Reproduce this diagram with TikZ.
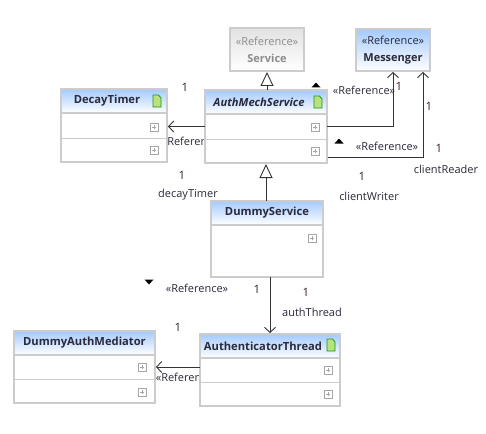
\documentclass[tikz,border=0pt]{standalone}
\usepackage{fontspec}
\setmainfont{Open Sans}
\usetikzlibrary{arrows.meta}
\definecolor{boxgray}{HTML}{CCCCCC}
\definecolor{headblue}{HTML}{A4CAFF}
\definecolor{headgray}{HTML}{E2E2E2}
\definecolor{textdark}{HTML}{2A2A3A}
\definecolor{textone}{HTML}{3A2030}
\tikzset{
  classbox/.style={draw=boxgray,line width=2pt,fill=white,outer sep=0pt,inner sep=0pt},
  headbox/.style={classbox,top color=headblue,bottom color=white,anchor=north,minimum height=24pt},
  refbox/.style={classbox,top color=headblue,bottom color=white,align=center,font=\fontsize{11}{17}\selectfont,text=textdark},
  title/.style={font=\fontsize{11.2}{13}\selectfont\bfseries,text=textdark,inner sep=0pt},
  tag/.style={font=\fontsize{11}{12}\selectfont,text=textdark,inner sep=0pt},
  one/.style={font=\fontsize{11.5}{12}\selectfont,text=textone,inner sep=0pt},
  refline/.style={-{Straight Barb[length=5pt,width=11pt]},line width=.9pt,draw=black!80,shorten >=1pt},
  genline/.style={-{Triangle[open,length=14pt,width=13pt,fill=white]},line width=.9pt,draw=black!80,shorten >=1pt},
  note/.pic={\draw[draw=green!55!black!90,fill=yellow!50!green!55,line width=.8pt] (-4,6) -- (-4,-6) -- (1.5,-6) -- (4,-3) -- (4,6) -- cycle;},
  plusmark/.pic={\draw[draw=black!35,line width=.8pt] (-4,-4) rectangle (4,4) (-2,0) -- (2,0) (0,-2) -- (0,2);},
  upmark/.pic={\fill (-4.5,2.5) -- (4.5,2.5) -- (0,-2.5) -- cycle;},
  downmark/.pic={\fill (-4.5,-2.5) -- (4.5,-2.5) -- (0,2.5) -- cycle;},
}
\begin{document}
\begin{tikzpicture}[x=1pt,y=-1pt]
  \useasboundingbox[fill=white] (0,0) rectangle (486,433);

  % labels that sit behind the boxes
  \node[tag] (decayRef) at (193,141) {«Reference»};
  \node[tag] (mediatorRef) at (187,377) {«Reference»};

  % boxes
  \node[refbox,minimum width=74pt,minimum height=43pt,top color=headgray,text=black!45] (serviceBox) at (267,49.5)
    {«Reference»\\{\bfseries Service}};
  \node[refbox,minimum width=74pt,minimum height=42pt] (messengerBox) at (393,50)
    {«Reference»\\{\bfseries Messenger}};

  \node[classbox,minimum width=122pt,minimum height=73pt] (authMechBox) at (266,126.5) {};
  \node[headbox,minimum width=122pt] (authMechHead) at (authMechBox.north) {};
  \node[title,font=\fontsize{11.2}{13}\selectfont\bfseries\itshape,xshift=-7pt] (authMechTitle) at (authMechHead) {AuthMechService};

  \node[classbox,minimum width=106pt,minimum height=73pt] (decayBox) at (114,125.5) {};
  \node[headbox,minimum width=106pt] (decayHead) at (decayBox.north) {};
  \node[title,xshift=-7pt] (decayTitle) at (decayHead) {DecayTimer};

  \node[classbox,minimum width=112pt,minimum height=76pt] (dummyBox) at (267,239) {};
  \node[headbox,minimum width=112pt] (dummyHead) at (dummyBox.north) {};
  \node[title] (dummyTitle) at (dummyHead) {DummyService};

  \node[classbox,minimum width=140pt,minimum height=72pt] (threadBox) at (270,370) {};
  \node[headbox,minimum width=140pt] (threadHead) at (threadBox.north) {};
  \node[title,xshift=-7pt] (threadTitle) at (threadHead) {AuthenticatorThread};

  \node[classbox,minimum width=141pt,minimum height=72pt] (mediatorBox) at (84.5,367) {};
  \node[headbox,minimum width=141pt] (mediatorHead) at (mediatorBox.north) {};
  \node[title] (mediatorTitle) at (mediatorHead) {DummyAuthMediator};

  % compartment rules, icons
  \foreach \xa/\xb/\y in {61/167/138,205/327/139,200/340/382,14/155/379}
    \draw[boxgray,line width=1pt] (\xa,\y) -- (\xb,\y);
  \foreach \x/\y in {154/127,154/150,315/127,315/151,312/238,328/370,328/394,142/367,142/392}
    \pic at (\x,\y) {plusmark};
  \foreach \x/\y in {157/101,318/102,331/345}
    \pic at (\x,\y) {note};

  % connectors
  \coordinate (writerStart) at (328,157);
  \coordinate (readerEnd) at (423,71);
  \draw[genline] (authMechBox.north -| serviceBox.south) -- (serviceBox.south);
  \draw[genline] (dummyBox.north -| authMechBox.south) -- (authMechBox.south);
  \draw[refline] (authMechBox.east) -| (messengerBox.south);
  \draw[refline] (writerStart) -| (readerEnd);
  \draw[refline] (authMechBox.west) -- (authMechBox.west -| decayBox.east);
  \draw[refline] (dummyBox.south -| threadBox.north) -- (threadBox.north);
  \draw[refline] (threadBox.west |- mediatorBox.east) -- (mediatorBox.east);

  % labels
  \node[tag] (messengerRef) at (364,90) {«Reference»};
  \node[tag] (readerRef) at (387,146) {«Reference»};
  \node[tag] (threadRef) at (197,288) {«Reference»};
  \node[tag] (decayName) at (188,195) {decayTimer};
  \node[tag] (writerName) at (369,196) {clientWriter};
  \node[tag] (readerName) at (446,169) {clientReader};
  \node[tag] (threadName) at (312,312) {authThread};
  \foreach \x/\y/\n in {185/87/a,182/175/b,399/86/c,429/106/d,439/148/e,362/176/f,257/289/g,306/292/h,178/327/i}
    \node[one] (one\n) at (\x,\y) {1};
  \pic at (316,85) {upmark};
  \pic at (339,141) {upmark};
  \pic at (149,282) {downmark};
\end{tikzpicture}
\end{document}
